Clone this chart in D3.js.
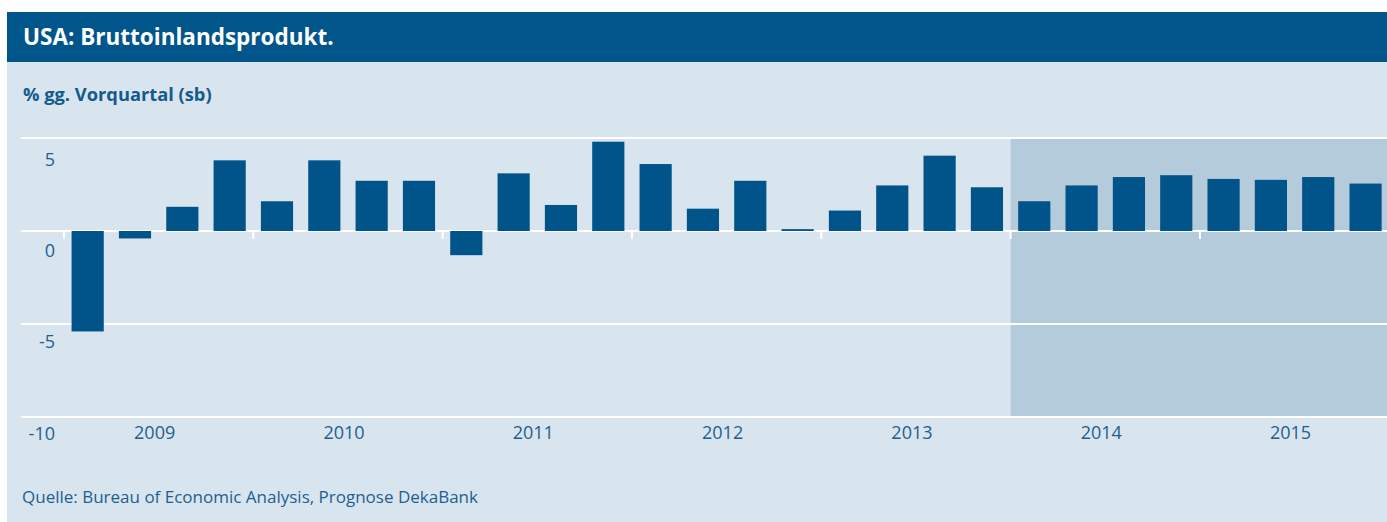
<html>
<head>
<meta charset="utf-8">
<script src="https://d3js.org/d3.v7.min.js"></script>
<style>
  body { margin: 0; background: #fff; }
  text { font-family: "Open Sans", "Noto Sans", sans-serif; }
</style>
</head>
<body>
<svg width="1387" height="522"></svg>
<script>
// quarters 2009 Q1 .. 2015 Q4, % change on previous quarter (saar)
var quarters = [];
var years = ["2009", "2010", "2011", "2012", "2013", "2014", "2015"];
years.forEach(function(y) { ["Q1", "Q2", "Q3", "Q4"].forEach(function(q) { quarters.push(y + q); }); });

var growth = [-5.4, -0.4, 1.3, 3.8, 1.6, 3.8, 2.7, 2.7,
              -1.3, 3.1, 1.4, 4.8, 3.6, 1.2, 2.7, 0.1,
              1.1, 2.45, 4.05, 2.35, 1.6, 2.45, 2.9, 3.0,
              2.8, 2.75, 2.9, 2.55];
var yTicks = [5, 0, -5, -10];
var forecastStart = "2014Q1";

var svg = d3.select("svg");

// panel background and title bar
svg.append("rect").attr("x", 7).attr("y", 12).attr("width", 1380).attr("height", 510).attr("fill", "#d9e5ee");
svg.append("rect").attr("x", 7).attr("y", 12).attr("width", 1380).attr("height", 50).attr("fill", "#00568a");
svg.append("text").attr("x", 23).attr("y", 45).attr("fill", "#fff")
  .attr("font-size", 22.5).attr("font-weight", "bold").text("USA: Bruttoinlandsprodukt.");
svg.append("text").attr("x", 23).attr("y", 101).attr("fill", "#155a8c")
  .attr("font-size", 18.3).attr("font-weight", "bold").text("% gg. Vorquartal (sb)");

// scales
var x = d3.scaleBand().domain(quarters).range([64, 64 + 28 * 47.33]).paddingInner(0.32).paddingOuter(0.16);
var y = d3.scaleLinear().domain([-10, 5]).range([417, 138]);
var yLab = d3.scaleLinear().domain([-10, 5]).range([433.5, 159.5]);

// forecast shading
svg.append("rect")
  .attr("x", x(forecastStart) - x.step() * x.paddingOuter())
  .attr("y", y(5) + 1).attr("width", 1387).attr("height", y(-10) - y(5) - 2)
  .attr("fill", "#b3cbdb");

// gridlines
svg.append("g").selectAll("line").data(yTicks).enter().append("line")
  .attr("x1", 21).attr("x2", 1387)
  .attr("y1", function(d) { return y(d); }).attr("y2", function(d) { return y(d); })
  .attr("stroke", "#fff").attr("stroke-width", 2);

// year ticks on zero line
var yearStarts = years.map(function(yy) { return x(yy + "Q1") - x.step() * x.paddingOuter(); });
svg.append("g").selectAll("line").data(yearStarts).enter().append("line")
  .attr("x1", function(d) { return d; }).attr("x2", function(d) { return d; })
  .attr("y1", y(0)).attr("y2", y(0) + 8)
  .attr("stroke", "#fff").attr("stroke-width", 2);

// bars
svg.append("g").selectAll("rect").data(growth).enter().append("rect")
  .attr("x", function(d, i) { return x(quarters[i]); })
  .attr("width", x.bandwidth())
  .attr("y", function(d) { return y(Math.max(0, d)); })
  .attr("height", function(d) { return Math.abs(y(d) - y(0)); })
  .attr("fill", "#00548a");

// y axis labels (set below the gridlines)
var yAxis = svg.append("g").attr("transform", "translate(55,0)")
  .call(d3.axisLeft(yLab).tickValues(yTicks).tickSize(0).tickPadding(0)
    .tickFormat(function(d) { return String(d); }));
yAxis.select(".domain").remove();
yAxis.selectAll("text").attr("font-size", 18).attr("fill", "#1d5f91")
  .style("font-family", "'Open Sans', sans-serif");

// year labels
svg.append("g").selectAll("text").data(years).enter().append("text")
  .attr("x", function(d) { return x(d + "Q1") - x.step() * x.paddingOuter() + x.step() * 2 - 4; })
  .attr("y", 439).attr("text-anchor", "middle")
  .attr("font-size", 18).attr("fill", "#1d5f91").text(function(d) { return d; });

// source
svg.append("text").attr("x", 22).attr("y", 503).attr("fill", "#1d5f91")
  .attr("font-size", 17).text("Quelle: Bureau of Economic Analysis, Prognose DekaBank");
</script>
</body>
</html>
